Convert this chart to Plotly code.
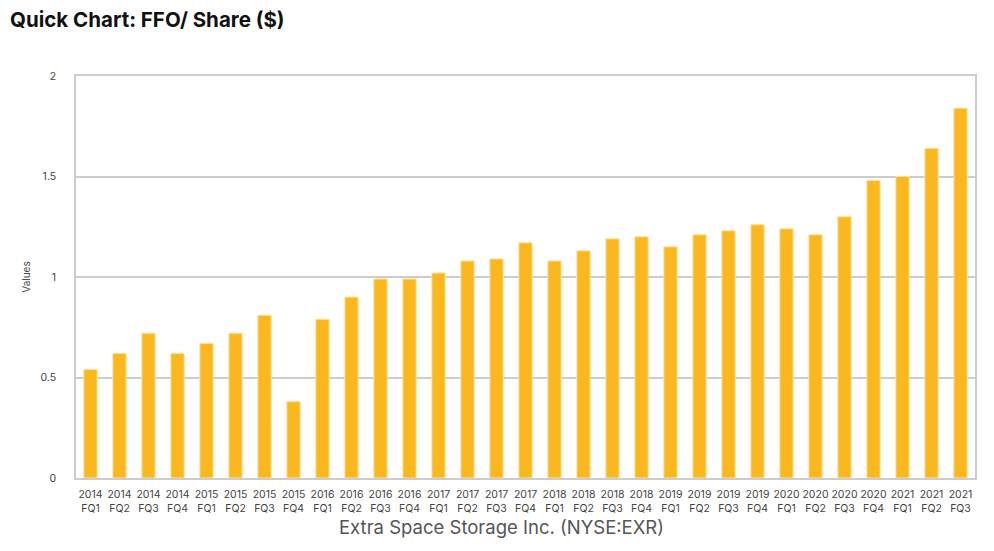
import plotly.graph_objects as go

# FFO per share by fiscal quarter
years = ["2014"] * 4 + ["2015"] * 4 + ["2016"] * 4 + ["2017"] * 4 + ["2018"] * 4 + ["2019"] * 4 + ["2020"] * 4 + ["2021"] * 3
quarters = ["FQ1", "FQ2", "FQ3", "FQ4"] * 7 + ["FQ1", "FQ2", "FQ3"]
ffo = [0.54, 0.62, 0.72, 0.62,
       0.67, 0.72, 0.81, 0.38,
       0.79, 0.90, 0.99, 0.99,
       1.02, 1.08, 1.09, 1.17,
       1.08, 1.13, 1.19, 1.20,
       1.15, 1.21, 1.23, 1.26,
       1.24, 1.21, 1.30, 1.48,
       1.50, 1.64, 1.84]

labels = [y + "<br>" + q for y, q in zip(years, quarters)]

fig = go.Figure(go.Bar(
    x=labels,
    y=ffo,
    marker=dict(color="#FAB81E", line=dict(color="#FCE3A8", width=1)),
    name="FFO/ Share",
))

# page body adds an 8px margin, so the figure is a bit smaller
W, H = 986, 543
L, R, T, B = 68, 19, 68, 73

fig.update_layout(
    width=W,
    height=H,
    paper_bgcolor="white",
    plot_bgcolor="white",
    showlegend=False,
    bargap=0.54,
    margin=dict(l=L, r=R, t=T, b=B),
    font=dict(family="Inter, Roboto, Arial, sans-serif", color="#444"),
    title=dict(
        text="<b>Quick Chart: FFO/ Share ($)</b>",
        x=2 / W, xanchor="left",
        y=1 - 12 / H, yanchor="middle",
        font=dict(size=20.5, color="#111"),
    ),
)

# x-axis title sits centred on the page, not on the plot area
fig.add_annotation(
    text="Extra Space Storage Inc. (NYSE:EXR)",
    xref="paper", yref="paper",
    x=(W / 2 - L) / (W - L - R), y=-49 / (H - T - B),
    xanchor="center", yanchor="middle",
    showarrow=False,
    font=dict(size=18.5, color="#555"),
)

fig.update_xaxes(
    tickfont=dict(size=10.5, color="#444"),
    showline=True, linecolor="#cccccc", linewidth=1.5, mirror=True,
    showgrid=False, ticks="",
    tickangle=0,
    ticklabelstandoff=6,
    automargin=False,
)

fig.update_yaxes(
    range=[0, 2],
    tickvals=[0, 0.5, 1, 1.5, 2],
    ticktext=["0", "0.5", "1", "1.5", "2"],
    tickfont=dict(size=10.5, color="#444"),
    title=dict(text="Values", font=dict(size=10, color="#444"), standoff=8),
    showline=True, linecolor="#cccccc", linewidth=1.5, mirror=True,
    showgrid=True, gridcolor="#cccccc", gridwidth=1.5,
    zeroline=False,
    ticklabelstandoff=16,
    automargin=False,
)

fig.write_html("out.html")
